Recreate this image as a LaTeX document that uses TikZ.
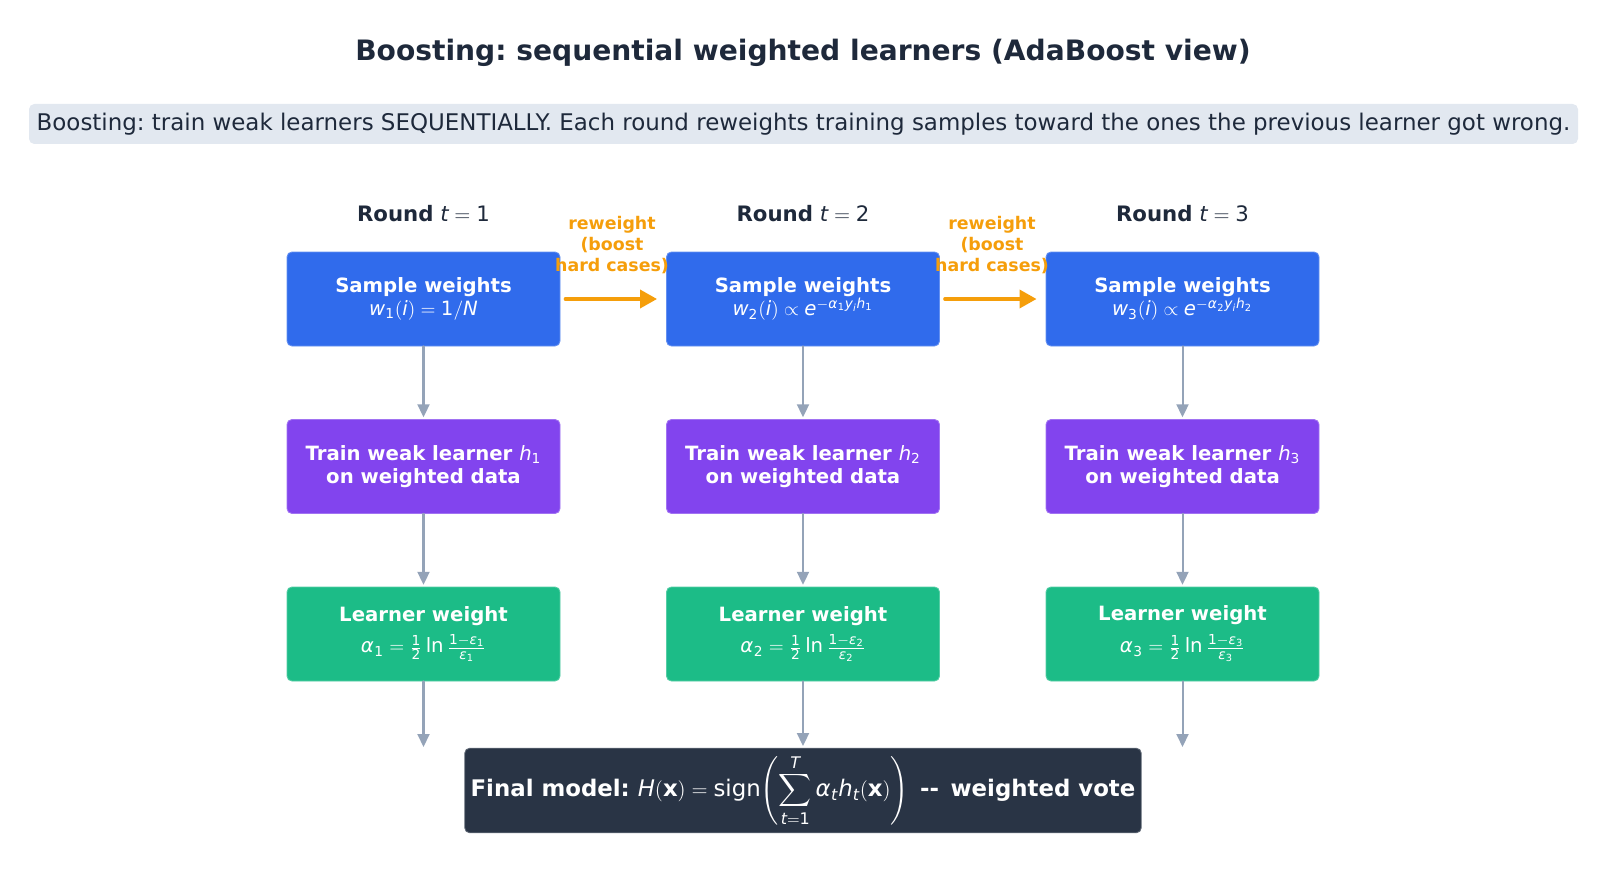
\documentclass[tikz,border=0pt]{standalone}
\usepackage{amsmath,amssymb}
\usepackage{mathspec}
\setmainfont{DejaVu Sans}
\setmathsfont(Digits,Latin,Greek){DejaVu Sans}
\setmathrm{DejaVu Sans}
\setboldmathrm[BoldFont={DejaVu Sans Bold}]{DejaVu Sans}
\frenchspacing
\usepackage{tikz}
\usetikzlibrary{arrows.meta,positioning}
\definecolor{slatedark}{HTML}{1E293B}
\definecolor{slategrey}{HTML}{94A3B8}
\definecolor{notebg}{HTML}{E2E8F0}
\definecolor{sampleblue}{HTML}{306BEC}
\definecolor{trainviolet}{HTML}{8244EE}
\definecolor{alphagreen}{HTML}{1CBC87}
\definecolor{finaldark}{HTML}{293445}
\definecolor{boostorange}{HTML}{F59E0B}
\tikzset{
  every picture/.append style={line cap=round,line join=round},
  boost box/.style={rounded corners=2.8pt,minimum width=5.46cm,minimum height=1.88cm,
    align=center,text=white,fill=#1,draw=#1!75!white,line width=0.5pt,
    font=\fontsize{11.2}{13.1}\selectfont\bfseries},
  boost flow/.style={slategrey,line width=1.15pt,-{Triangle[length=0.26cm,width=0.24cm]}},
  boost reweight/.style={boostorange,line width=2pt,-{Triangle[length=0.34cm,width=0.36cm]}},
  boost round/.style={text=slatedark,font=\fontsize{12.1}{14.5}\selectfont}
}
\begin{document}
\begin{tikzpicture}[
  note/.style={font=\fontsize{9.9}{11.9}\selectfont\bfseries,text=boostorange,align=center},
  headline/.style={font=\fontsize{16}{18}\selectfont\bfseries,text=slatedark}
]
\useasboundingbox (0,0) rectangle (32.12,-17.9);
\node[headline] (title) at (16.06,-1.05) {Boosting: sequential weighted learners (AdaBoost view)};
\node[fill=notebg,rounded corners=3pt,minimum width=30.98cm,minimum height=0.8cm,
  text=slatedark,font=\fontsize{13.05}{14}\selectfont] (summary) at (16.07,-2.48)
  {Boosting: train weak learners SEQUENTIALLY. Each round reweights training samples toward the ones the previous learner got wrong.};

% round headings
\node[boost round] (round1) at (8.47,-4.28) {\textbf{Round} $t=1$};
\node[boost round] (round2) at (16.06,-4.28) {\textbf{Round} $t=2$};
\node[boost round] (round3) at (23.65,-4.28) {\textbf{Round} $t=3$};

% sample weights
\node[boost box=sampleblue] (sw1) at (8.47,-5.98) {Sample weights\\ $w_1(i)=1/N$};
\node[boost box=sampleblue] (sw2) at (16.06,-5.98) {Sample weights\\ $w_2(i)\propto e^{-\alpha_1 y_i h_1}$};
\node[boost box=sampleblue] (sw3) at (23.65,-5.98) {Sample weights\\ $w_3(i)\propto e^{-\alpha_2 y_i h_2}$};

% weak learners
\node[boost box=trainviolet] (tw1) at (8.47,-9.33) {Train weak learner $h_1$\\ on weighted data};
\node[boost box=trainviolet] (tw2) at (16.06,-9.33) {Train weak learner $h_2$\\ on weighted data};
\node[boost box=trainviolet] (tw3) at (23.65,-9.33) {Train weak learner $h_3$\\ on weighted data};

% learner weights
\node[boost box=alphagreen] (lw1) at (8.47,-12.68) {Learner weight\\[5pt] $\alpha_1=\frac{1}{2}\ln\frac{1-\epsilon_1}{\epsilon_1}$};
\node[boost box=alphagreen] (lw2) at (16.06,-12.68) {Learner weight\\[5pt] $\alpha_2=\frac{1}{2}\ln\frac{1-\epsilon_2}{\epsilon_2}$};
\node[boost box=alphagreen] (lw3) at (23.65,-12.68) {Learner weight\\[5pt] $\alpha_3=\frac{1}{2}\ln\frac{1-\epsilon_3}{\epsilon_3}$};

% final vote
\node[boost box=finaldark,minimum width=13.5cm,minimum height=1.66cm,
  font=\fontsize{13}{15}\selectfont\bfseries] (final) at (16.06,-15.81)
  {Final model: $H(\mathbf{x})=\mathrm{sign}\!\left(\displaystyle\sum_{t=1}^{T}\alpha_t h_t(\mathbf{x})\right)$\enspace{-}{-}\enspace weighted vote};
\coordinate (vote1) at (8.47,-14.94);
\coordinate (vote3) at (23.65,-14.94);

\draw[boost flow,shorten >=1pt] (sw1) -- (tw1);
\draw[boost flow,shorten >=1pt] (sw2) -- (tw2);
\draw[boost flow,shorten >=1pt] (sw3) -- (tw3);
\draw[boost flow,shorten >=1pt] (tw1) -- (lw1);
\draw[boost flow,shorten >=1pt] (tw2) -- (lw2);
\draw[boost flow,shorten >=1pt] (tw3) -- (lw3);
\draw[boost flow] (lw1) -- (vote1);
\draw[boost flow,shorten >=1pt] (lw2) -- (final);
\draw[boost flow] (lw3) -- (vote3);

\draw[boost reweight,shorten <=0.1cm,shorten >=0.18cm] (sw1) -- (sw2);
\draw[boost reweight,shorten <=0.1cm,shorten >=0.18cm] (sw2) -- (sw3);
\node[note] (boost1) at (12.24,-4.9) {reweight\\(boost\\hard cases)};
\node[note] (boost2) at (19.84,-4.9) {reweight\\(boost\\hard cases)};
\end{tikzpicture}
\end{document}
